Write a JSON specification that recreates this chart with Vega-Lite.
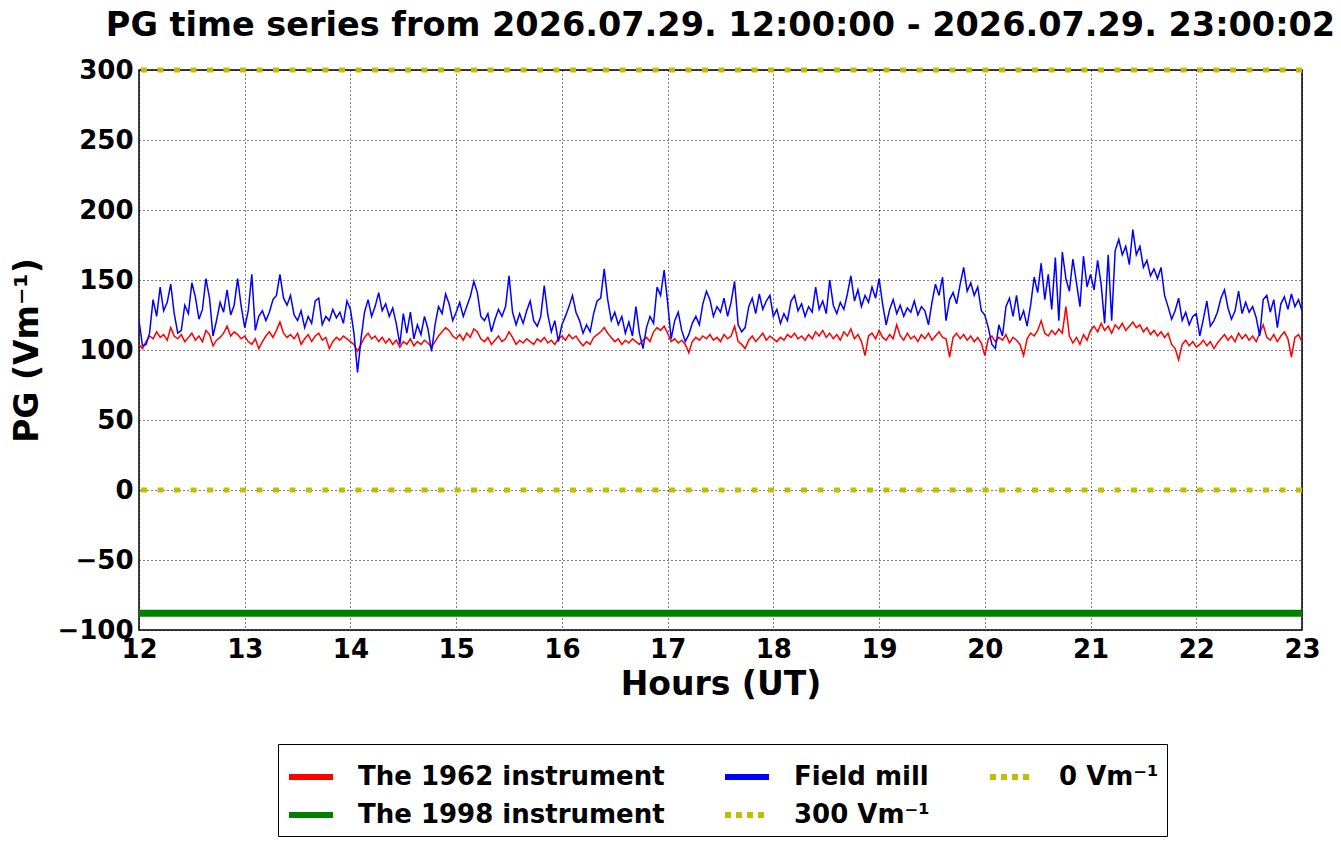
{
"$schema":"https://vega.github.io/schema/vega-lite/v6.json",
"autosize":{"type":"none"},
"width":1163,"height":560,
"padding":{"left":139,"top":70,"right":39,"bottom":214},
"background":"white",
"title":{"text":"PG time series from 2026.07.29. 12:00:00 - 2026.07.29. 23:00:02","font":"DejaVu Sans","fontSize":33.5,"fontWeight":"bold","color":"black","anchor":"middle","offset":14},
"config":{"view":{"stroke":"black","strokeWidth":1.5},
"axis":{"labelFont":"DejaVu Sans","labelFontSize":26,"labelFontWeight":"bold","labelColor":"black","titleFont":"DejaVu Sans","titleFontSize":33,"titleFontWeight":"bold","titleColor":"black","grid":true,"gridColor":"black","gridDash":[1,3],"gridOpacity":1,"gridWidth":1,"domain":false,"ticks":false,"labelPadding":6,"labelFlush":false,"labelOverlap":false}},
"data":{"values":[
{"h":12.000,"r":104,"b":121},{"h":12.033,"r":101,"b":103},{"h":12.067,"r":106,"b":104},{"h":12.100,"r":110,"b":112},{"h":12.133,"r":108,"b":136},{"h":12.167,"r":113,"b":124},{"h":12.200,"r":109,"b":145},{"h":12.233,"r":111,"b":128},{"h":12.267,"r":107,"b":134},{"h":12.300,"r":116,"b":147},{"h":12.333,"r":110,"b":126},{"h":12.367,"r":108,"b":112},{"h":12.400,"r":111,"b":114},{"h":12.433,"r":106,"b":132},{"h":12.467,"r":109,"b":126},{"h":12.500,"r":112,"b":148},{"h":12.533,"r":107,"b":138},{"h":12.567,"r":110,"b":122},{"h":12.600,"r":106,"b":129},{"h":12.633,"r":114,"b":151},{"h":12.667,"r":111,"b":137},{"h":12.700,"r":103,"b":110},{"h":12.733,"r":107,"b":121},{"h":12.767,"r":109,"b":134},{"h":12.800,"r":112,"b":127},{"h":12.833,"r":117,"b":143},{"h":12.867,"r":110,"b":125},{"h":12.900,"r":113,"b":132},{"h":12.933,"r":111,"b":151},{"h":12.967,"r":108,"b":131},
{"h":13.000,"r":110,"b":116},{"h":13.033,"r":106,"b":128},{"h":13.067,"r":104,"b":154},{"h":13.100,"r":108,"b":114},{"h":13.133,"r":101,"b":124},{"h":13.167,"r":106,"b":128},{"h":13.200,"r":110,"b":121},{"h":13.233,"r":113,"b":127},{"h":13.267,"r":109,"b":136},{"h":13.300,"r":114,"b":139},{"h":13.333,"r":120,"b":154},{"h":13.367,"r":112,"b":137},{"h":13.400,"r":109,"b":132},{"h":13.433,"r":111,"b":139},{"h":13.467,"r":108,"b":125},{"h":13.500,"r":112,"b":121},{"h":13.533,"r":104,"b":128},{"h":13.567,"r":108,"b":116},{"h":13.600,"r":111,"b":124},{"h":13.633,"r":106,"b":119},{"h":13.667,"r":110,"b":135},{"h":13.700,"r":112,"b":137},{"h":13.733,"r":107,"b":118},{"h":13.767,"r":109,"b":124},{"h":13.800,"r":101,"b":121},{"h":13.833,"r":106,"b":129},{"h":13.867,"r":109,"b":123},{"h":13.900,"r":107,"b":127},{"h":13.933,"r":110,"b":119},{"h":13.967,"r":108,"b":135},
{"h":14.000,"r":106,"b":129},{"h":14.033,"r":104,"b":112},{"h":14.067,"r":99,"b":84},{"h":14.100,"r":104,"b":108},{"h":14.133,"r":109,"b":127},{"h":14.167,"r":112,"b":136},{"h":14.200,"r":108,"b":124},{"h":14.233,"r":110,"b":131},{"h":14.267,"r":106,"b":141},{"h":14.300,"r":109,"b":128},{"h":14.333,"r":105,"b":133},{"h":14.367,"r":108,"b":124},{"h":14.400,"r":104,"b":130},{"h":14.433,"r":107,"b":119},{"h":14.467,"r":102,"b":104},{"h":14.500,"r":106,"b":126},{"h":14.533,"r":104,"b":112},{"h":14.567,"r":108,"b":127},{"h":14.600,"r":103,"b":108},{"h":14.633,"r":106,"b":118},{"h":14.667,"r":104,"b":111},{"h":14.700,"r":107,"b":124},{"h":14.733,"r":105,"b":115},{"h":14.767,"r":102,"b":99},{"h":14.800,"r":106,"b":118},{"h":14.833,"r":110,"b":131},{"h":14.867,"r":113,"b":126},{"h":14.900,"r":116,"b":140},{"h":14.933,"r":114,"b":133},{"h":14.967,"r":110,"b":121},
{"h":15.000,"r":108,"b":127},{"h":15.033,"r":111,"b":134},{"h":15.067,"r":107,"b":124},{"h":15.100,"r":112,"b":131},{"h":15.133,"r":109,"b":138},{"h":15.167,"r":115,"b":149},{"h":15.200,"r":113,"b":141},{"h":15.233,"r":108,"b":124},{"h":15.267,"r":106,"b":121},{"h":15.300,"r":109,"b":126},{"h":15.333,"r":104,"b":113},{"h":15.367,"r":107,"b":122},{"h":15.400,"r":110,"b":129},{"h":15.433,"r":106,"b":124},{"h":15.467,"r":108,"b":131},{"h":15.500,"r":113,"b":153},{"h":15.533,"r":109,"b":127},{"h":15.567,"r":104,"b":118},{"h":15.600,"r":107,"b":126},{"h":15.633,"r":105,"b":119},{"h":15.667,"r":108,"b":128},{"h":15.700,"r":106,"b":135},{"h":15.733,"r":104,"b":121},{"h":15.767,"r":108,"b":117},{"h":15.800,"r":106,"b":124},{"h":15.833,"r":109,"b":146},{"h":15.867,"r":105,"b":125},{"h":15.900,"r":107,"b":113},{"h":15.933,"r":104,"b":121},{"h":15.967,"r":108,"b":106},
{"h":16.000,"r":110,"b":118},{"h":16.033,"r":107,"b":124},{"h":16.067,"r":111,"b":131},{"h":16.100,"r":108,"b":139},{"h":16.133,"r":110,"b":127},{"h":16.167,"r":106,"b":121},{"h":16.200,"r":103,"b":112},{"h":16.233,"r":106,"b":118},{"h":16.267,"r":104,"b":113},{"h":16.300,"r":109,"b":126},{"h":16.333,"r":111,"b":135},{"h":16.367,"r":113,"b":137},{"h":16.400,"r":116,"b":158},{"h":16.433,"r":112,"b":136},{"h":16.467,"r":109,"b":121},{"h":16.500,"r":106,"b":127},{"h":16.533,"r":108,"b":118},{"h":16.567,"r":104,"b":124},{"h":16.600,"r":107,"b":112},{"h":16.633,"r":105,"b":120},{"h":16.667,"r":108,"b":110},{"h":16.700,"r":106,"b":131},{"h":16.733,"r":104,"b":112},{"h":16.767,"r":107,"b":101},{"h":16.800,"r":109,"b":116},{"h":16.833,"r":106,"b":124},{"h":16.867,"r":113,"b":119},{"h":16.900,"r":116,"b":145},{"h":16.933,"r":114,"b":139},{"h":16.967,"r":117,"b":157},
{"h":17.000,"r":112,"b":134},{"h":17.033,"r":106,"b":108},{"h":17.067,"r":108,"b":121},{"h":17.100,"r":105,"b":127},{"h":17.133,"r":107,"b":114},{"h":17.167,"r":104,"b":106},{"h":17.200,"r":98,"b":111},{"h":17.233,"r":106,"b":119},{"h":17.267,"r":109,"b":124},{"h":17.300,"r":107,"b":118},{"h":17.333,"r":110,"b":133},{"h":17.367,"r":108,"b":142},{"h":17.400,"r":111,"b":136},{"h":17.433,"r":107,"b":124},{"h":17.467,"r":109,"b":131},{"h":17.500,"r":106,"b":127},{"h":17.533,"r":111,"b":137},{"h":17.567,"r":108,"b":124},{"h":17.600,"r":110,"b":134},{"h":17.633,"r":117,"b":149},{"h":17.667,"r":106,"b":118},{"h":17.700,"r":104,"b":113},{"h":17.733,"r":101,"b":116},{"h":17.767,"r":107,"b":131},{"h":17.800,"r":110,"b":137},{"h":17.833,"r":106,"b":126},{"h":17.867,"r":109,"b":140},{"h":17.900,"r":112,"b":129},{"h":17.933,"r":107,"b":135},{"h":17.967,"r":110,"b":139},
{"h":18.000,"r":108,"b":124},{"h":18.033,"r":106,"b":129},{"h":18.067,"r":109,"b":119},{"h":18.100,"r":107,"b":126},{"h":18.133,"r":111,"b":121},{"h":18.167,"r":109,"b":135},{"h":18.200,"r":112,"b":139},{"h":18.233,"r":108,"b":128},{"h":18.267,"r":110,"b":133},{"h":18.300,"r":107,"b":124},{"h":18.333,"r":111,"b":131},{"h":18.367,"r":108,"b":127},{"h":18.400,"r":113,"b":145},{"h":18.433,"r":110,"b":129},{"h":18.467,"r":114,"b":135},{"h":18.500,"r":109,"b":126},{"h":18.533,"r":112,"b":150},{"h":18.567,"r":108,"b":132},{"h":18.600,"r":111,"b":126},{"h":18.633,"r":107,"b":134},{"h":18.667,"r":113,"b":129},{"h":18.700,"r":110,"b":140},{"h":18.733,"r":115,"b":153},{"h":18.767,"r":108,"b":135},{"h":18.800,"r":111,"b":143},{"h":18.833,"r":106,"b":131},{"h":18.867,"r":96,"b":139},{"h":18.900,"r":110,"b":134},{"h":18.933,"r":112,"b":145},{"h":18.967,"r":108,"b":137},
{"h":19.000,"r":114,"b":151},{"h":19.033,"r":109,"b":133},{"h":19.067,"r":107,"b":118},{"h":19.100,"r":111,"b":129},{"h":19.133,"r":108,"b":136},{"h":19.167,"r":118,"b":126},{"h":19.200,"r":110,"b":132},{"h":19.233,"r":107,"b":124},{"h":19.267,"r":112,"b":130},{"h":19.300,"r":108,"b":127},{"h":19.333,"r":110,"b":135},{"h":19.367,"r":106,"b":125},{"h":19.400,"r":111,"b":131},{"h":19.433,"r":108,"b":128},{"h":19.467,"r":112,"b":118},{"h":19.500,"r":107,"b":134},{"h":19.533,"r":110,"b":147},{"h":19.567,"r":113,"b":139},{"h":19.600,"r":109,"b":152},{"h":19.633,"r":108,"b":121},{"h":19.667,"r":95,"b":136},{"h":19.700,"r":109,"b":141},{"h":19.733,"r":112,"b":133},{"h":19.767,"r":108,"b":147},{"h":19.800,"r":111,"b":159},{"h":19.833,"r":107,"b":142},{"h":19.867,"r":110,"b":148},{"h":19.900,"r":106,"b":139},{"h":19.933,"r":109,"b":145},{"h":19.967,"r":105,"b":128},
{"h":20.000,"r":96,"b":125},{"h":20.033,"r":108,"b":116},{"h":20.067,"r":110,"b":104},{"h":20.100,"r":106,"b":101},{"h":20.133,"r":109,"b":118},{"h":20.167,"r":107,"b":110},{"h":20.200,"r":111,"b":131},{"h":20.233,"r":105,"b":137},{"h":20.267,"r":109,"b":124},{"h":20.300,"r":107,"b":139},{"h":20.333,"r":104,"b":121},{"h":20.367,"r":96,"b":128},{"h":20.400,"r":108,"b":117},{"h":20.433,"r":112,"b":132},{"h":20.467,"r":110,"b":152},{"h":20.500,"r":114,"b":141},{"h":20.533,"r":121,"b":162},{"h":20.567,"r":112,"b":136},{"h":20.600,"r":110,"b":154},{"h":20.633,"r":114,"b":129},{"h":20.667,"r":111,"b":166},{"h":20.700,"r":115,"b":121},{"h":20.733,"r":112,"b":170},{"h":20.767,"r":131,"b":151},{"h":20.800,"r":110,"b":142},{"h":20.833,"r":105,"b":165},{"h":20.867,"r":109,"b":148},{"h":20.900,"r":104,"b":131},{"h":20.933,"r":111,"b":167},{"h":20.967,"r":107,"b":145},
{"h":21.000,"r":114,"b":154},{"h":21.033,"r":117,"b":143},{"h":21.067,"r":113,"b":164},{"h":21.100,"r":119,"b":147},{"h":21.133,"r":114,"b":119},{"h":21.167,"r":117,"b":168},{"h":21.200,"r":112,"b":121},{"h":21.233,"r":118,"b":171},{"h":21.267,"r":115,"b":179},{"h":21.300,"r":119,"b":168},{"h":21.333,"r":114,"b":174},{"h":21.367,"r":117,"b":161},{"h":21.400,"r":120,"b":186},{"h":21.433,"r":116,"b":168},{"h":21.467,"r":118,"b":174},{"h":21.500,"r":113,"b":159},{"h":21.533,"r":116,"b":164},{"h":21.567,"r":111,"b":153},{"h":21.600,"r":114,"b":158},{"h":21.633,"r":110,"b":151},{"h":21.667,"r":113,"b":159},{"h":21.700,"r":109,"b":139},{"h":21.733,"r":112,"b":131},{"h":21.767,"r":104,"b":122},{"h":21.800,"r":101,"b":128},{"h":21.833,"r":93,"b":137},{"h":21.867,"r":104,"b":121},{"h":21.900,"r":107,"b":127},{"h":21.933,"r":103,"b":118},{"h":21.967,"r":106,"b":124},
{"h":22.000,"r":102,"b":126},{"h":22.033,"r":104,"b":110},{"h":22.067,"r":107,"b":122},{"h":22.100,"r":103,"b":135},{"h":22.133,"r":106,"b":117},{"h":22.167,"r":101,"b":121},{"h":22.200,"r":105,"b":127},{"h":22.233,"r":108,"b":137},{"h":22.267,"r":111,"b":143},{"h":22.300,"r":107,"b":130},{"h":22.333,"r":110,"b":122},{"h":22.367,"r":106,"b":128},{"h":22.400,"r":112,"b":142},{"h":22.433,"r":108,"b":126},{"h":22.467,"r":111,"b":134},{"h":22.500,"r":107,"b":127},{"h":22.533,"r":110,"b":131},{"h":22.567,"r":106,"b":123},{"h":22.600,"r":112,"b":110},{"h":22.633,"r":118,"b":136},{"h":22.667,"r":109,"b":139},{"h":22.700,"r":107,"b":127},{"h":22.733,"r":111,"b":136},{"h":22.767,"r":106,"b":116},{"h":22.800,"r":110,"b":133},{"h":22.833,"r":113,"b":138},{"h":22.867,"r":108,"b":129},{"h":22.900,"r":95,"b":140},{"h":22.933,"r":109,"b":131},{"h":22.967,"r":111,"b":136},{"h":23.000,"r":106,"b":128}
]},
"layer":[
{"mark":{"type":"line","strokeWidth":1.5,"clip":true},
"encoding":{
"x":{"field":"h","type":"quantitative","scale":{"domain":[12,23],"nice":false,"zero":false},"axis":{"values":[12,13,14,15,16,17,18,19,20,21,22,23],"title":"Hours (UT)","titlePadding":6,"format":"d"}},
"y":{"field":"r","type":"quantitative","scale":{"domain":[-100,300],"nice":false,"zero":false},"axis":{"values":[-100,-50,0,50,100,150,200,250,300],"title":"PG (Vm⁻¹)","titlePadding":12}},
"color":{"datum":"The 1962 instrument","type":"nominal","scale":{"domain":["The 1962 instrument","The 1998 instrument","Field mill","300 Vm⁻¹","0 Vm⁻¹"],"range":["#ff0000","#008000","#0000ff","#bfbf00","#bfbf00"]},
"legend":{"title":null,"orient":"none","legendX":139,"legendY":674,"columns":3,"columnPadding":48,"rowPadding":-5,"symbolType":"stroke","symbolSize":1936,"symbolStrokeWidth":6,"labelFont":"DejaVu Sans","labelFontSize":26,"labelFontWeight":"bold","labelColor":"black","labelLimit":600,"labelOffset":22,"strokeColor":"black","fillColor":"white","padding":8,
"encode":{"symbols":{"update":{"strokeDash":{"signal":"indexof(datum.value, 'Vm') >= 0 ? [6,5] : [1,0]"},"strokeCap":{"value":"butt"}}}}}}}},
{"data":{"values":[{}]},"mark":{"type":"rule","strokeWidth":7},
"encoding":{"y":{"datum":-88,"type":"quantitative"},"color":{"datum":"The 1998 instrument","type":"nominal"}}},
{"mark":{"type":"line","strokeWidth":1.5,"clip":true},
"encoding":{"x":{"field":"h","type":"quantitative"},"y":{"field":"b","type":"quantitative"},"color":{"datum":"Field mill","type":"nominal"}}},
{"data":{"values":[{}]},"mark":{"type":"rule","strokeWidth":5,"strokeDash":[6,10.5],"strokeCap":"butt"},
"encoding":{"y":{"datum":300,"type":"quantitative"},"color":{"datum":"300 Vm⁻¹","type":"nominal"}}},
{"data":{"values":[{}]},"mark":{"type":"rule","strokeWidth":5,"strokeDash":[6,10.5],"strokeCap":"butt"},
"encoding":{"y":{"datum":0,"type":"quantitative"},"color":{"datum":"0 Vm⁻¹","type":"nominal"}}}
]
}
